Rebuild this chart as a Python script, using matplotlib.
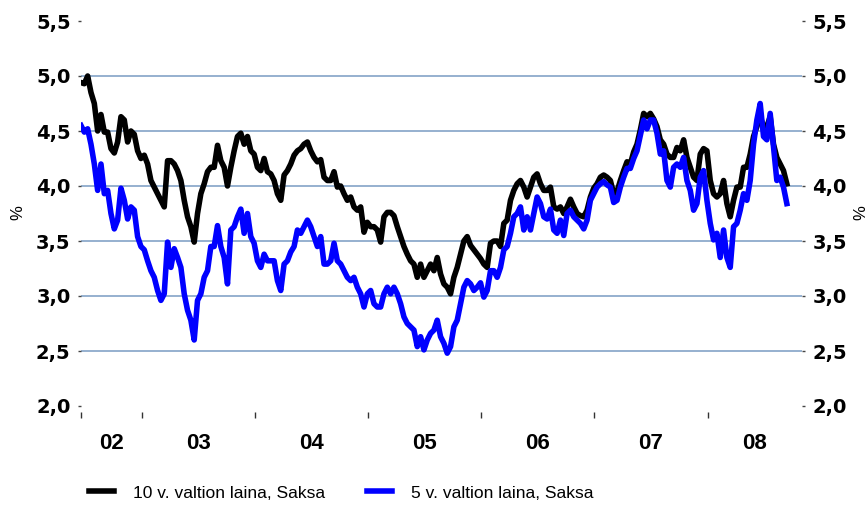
import matplotlib.pyplot as plt
import pandas as pd

# Saksan valtionlainojen korot, %, luettu kuvasta (noin 11 pv valein)
bund10 = [4.94, 4.93, 5.0, 4.85, 4.75, 4.5, 4.65, 4.49, 4.49, 4.34, 4.3, 4.4, 4.63, 4.6, 4.4,
          4.5, 4.47, 4.32, 4.25, 4.28, 4.2, 4.05, 3.99, 3.93, 3.87, 3.81, 4.23, 4.23, 4.2, 4.14,
          4.05, 3.87, 3.72, 3.63, 3.49, 3.75, 3.93, 4.02, 4.13, 4.17, 4.17, 4.37, 4.23, 4.17, 4.0,
          4.17, 4.32, 4.45, 4.48, 4.38, 4.45, 4.32, 4.29, 4.17, 4.14, 4.25, 4.13, 4.11, 4.05, 3.93,
          3.87, 4.1, 4.14, 4.2, 4.28, 4.32, 4.34, 4.38, 4.4, 4.32, 4.26, 4.22, 4.24, 4.08, 4.05,
          4.05, 4.13, 3.99, 4.0, 3.93, 3.87, 3.9, 3.81, 3.78, 3.81, 3.58, 3.67, 3.63,
          3.63, 3.6, 3.49, 3.72, 3.76, 3.76, 3.73, 3.63, 3.54, 3.45, 3.38, 3.32, 3.29, 3.17, 3.29,
          3.17, 3.23, 3.29, 3.23, 3.35, 3.2, 3.11, 3.08, 3.02, 3.17, 3.26, 3.38, 3.5, 3.54, 3.46,
          3.42, 3.38, 3.34, 3.29, 3.26, 3.48, 3.5, 3.5, 3.45, 3.66, 3.69, 3.87,
          3.96, 4.02, 4.05, 3.99, 3.9, 3.99, 4.08, 4.11, 4.02, 3.96, 3.96, 3.99, 3.81, 3.79, 3.81,
          3.75, 3.81, 3.88, 3.81, 3.75, 3.73, 3.72, 3.78, 3.9, 3.98, 4.02, 4.08, 4.1, 4.08, 4.05,
          3.93, 3.95, 4.05, 4.14, 4.22, 4.2, 4.31, 4.38, 4.51, 4.66, 4.63, 4.66,
          4.61, 4.54, 4.42, 4.38, 4.29, 4.26, 4.26, 4.35, 4.32, 4.42, 4.26, 4.17, 4.08, 4.05, 4.29,
          4.34, 4.32, 4.05, 3.93, 3.9, 3.93, 4.05, 3.84, 3.72, 3.87, 3.99, 3.99, 4.17, 4.17, 4.29,
          4.45, 4.54, 4.63, 4.54, 4.54, 4.63, 4.38, 4.26, 4.2, 4.14, 4.02]

bund5 = [4.55, 4.49, 4.52, 4.38, 4.2, 3.96, 4.2, 3.93, 3.96, 3.75, 3.61, 3.69, 3.98, 3.87, 3.7,
         3.81, 3.78, 3.54, 3.45, 3.42, 3.32, 3.23, 3.17, 3.05, 2.96, 3.02, 3.49, 3.26, 3.43, 3.35,
         3.26, 3.02, 2.87, 2.78, 2.6, 2.96, 3.02, 3.17, 3.23, 3.45, 3.45, 3.64, 3.45, 3.35, 3.11,
         3.6, 3.63, 3.72, 3.79, 3.57, 3.75, 3.54, 3.48, 3.32, 3.26, 3.38, 3.32, 3.32, 3.32, 3.14,
         3.05, 3.29, 3.32, 3.4, 3.45, 3.6, 3.57, 3.63, 3.69, 3.63, 3.54, 3.45, 3.54, 3.29, 3.29,
         3.32, 3.48, 3.32, 3.29, 3.23, 3.17, 3.14, 3.17, 3.08, 3.02, 2.9, 3.02, 3.05,
         2.93, 2.9, 2.9, 3.02, 3.08, 3.02, 3.08, 3.02, 2.93, 2.81, 2.75, 2.72, 2.69, 2.54, 2.63,
         2.51, 2.6, 2.66, 2.69, 2.78, 2.63, 2.57, 2.48, 2.54, 2.72, 2.78, 2.93, 3.08, 3.14, 3.11,
         3.05, 3.08, 3.12, 2.99, 3.05, 3.23, 3.23, 3.17, 3.26, 3.42, 3.45, 3.57,
         3.72, 3.75, 3.81, 3.6, 3.72, 3.6, 3.75, 3.9, 3.84, 3.72, 3.7, 3.79, 3.6, 3.57, 3.69,
         3.55, 3.75, 3.78, 3.72, 3.69, 3.66, 3.61, 3.69, 3.87, 3.93, 3.99, 4.02, 4.04, 4.01, 3.99,
         3.85, 3.87, 3.99, 4.08, 4.16, 4.16, 4.25, 4.32, 4.46, 4.6, 4.52, 4.6,
         4.6, 4.48, 4.29, 4.32, 4.05, 3.99, 4.17, 4.2, 4.17, 4.26, 4.05, 3.96, 3.78, 3.84, 4.08,
         4.14, 3.87, 3.66, 3.51, 3.57, 3.35, 3.6, 3.35, 3.26, 3.63, 3.66, 3.78, 3.93, 3.87, 4.05,
         4.38, 4.6, 4.75, 4.45, 4.42, 4.66, 4.35, 4.05, 4.08, 3.99, 3.84]

first_day = '2002-06-18'
last_day = '2008-09-13'
axis_start = '2002-06-18'
axis_end = '2008-11-01'
years = [2002, 2003, 2004, 2005, 2006, 2007, 2008]
year_labels = ['02', '03', '04', '05', '06', '07', '08']
y_ticks = [2.0, 2.5, 3.0, 3.5, 4.0, 4.5, 5.0, 5.5]
grid_levels = [2.5, 3.0, 3.5, 4.0, 4.5, 5.0]

dates = pd.date_range(first_day, last_day, periods=len(bund10))
x0 = pd.Timestamp(axis_start)
x1 = pd.Timestamp(axis_end)

fig = plt.figure(figsize=(8.68, 5.05), dpi=100)
ax = fig.add_axes([81 / 868, 1 - 406 / 505, 721 / 868, 385 / 505])

for v in grid_levels:
    ax.axhline(v, color='#8EAACC', lw=1.3, zorder=1)

ax.plot(dates, bund10, color='black', lw=4, zorder=3, label='10 v. valtion laina, Saksa')
ax.plot(dates, bund5, color='#0000FF', lw=4, zorder=4, label='5 v. valtion laina, Saksa')

ax.set_xlim(x0, x1)
ax.set_ylim(2.0, 5.5)

for s in ax.spines.values():
    s.set_visible(False)
ax.spines['bottom'].set_position(('outward', 4.5))

# vuosirajat + vuosien keskikohdat nimiöille
major = [x0] + [pd.Timestamp(y, 1, 1) for y in years[1:]]
mids = []
for y in years:
    a = max(pd.Timestamp(y, 1, 1), x0)
    b = min(pd.Timestamp(y + 1, 1, 1), x1)
    mids.append(a + (b - a) / 2)
ax.set_xticks(major)
ax.set_xticklabels([])
ax.set_xticks(mids, minor=True)
ax.set_xticklabels(year_labels, minor=True, fontsize=16, fontweight='bold',
                   family=['Liberation Sans', 'DejaVu Sans'])
ax.tick_params(axis='x', which='major', direction='out', length=4, width=1, color='#333333')
ax.tick_params(axis='x', which='minor', length=0, pad=15)

ax.set_yticks(y_ticks)
ax.set_yticklabels([f'{v:.1f}'.replace('.', ',') for v in y_ticks],
                   fontsize=14, fontweight='bold', family='DejaVu Sans')
ax.tick_params(axis='y', left=True, right=True, labelleft=True, labelright=True,
               direction='out', length=2.5, width=1, color='#444444', pad=5)

fig.text(18 / 868, 1 - 213 / 505, '%', rotation=90, ha='center', va='center',
         fontsize=12, family='Liberation Sans')
fig.text(861 / 868, 1 - 213 / 505, '%', rotation=90, ha='center', va='center',
         fontsize=12, family='Liberation Sans')

fig.legend(loc='center', bbox_to_anchor=(0.393, 1 - 493 / 505), ncol=2, frameon=False,
           prop={'family': 'Liberation Sans', 'size': 12.5}, handlelength=1.45,
           handletextpad=1.1, columnspacing=2.4)

fig.savefig('out.png', dpi=100)
